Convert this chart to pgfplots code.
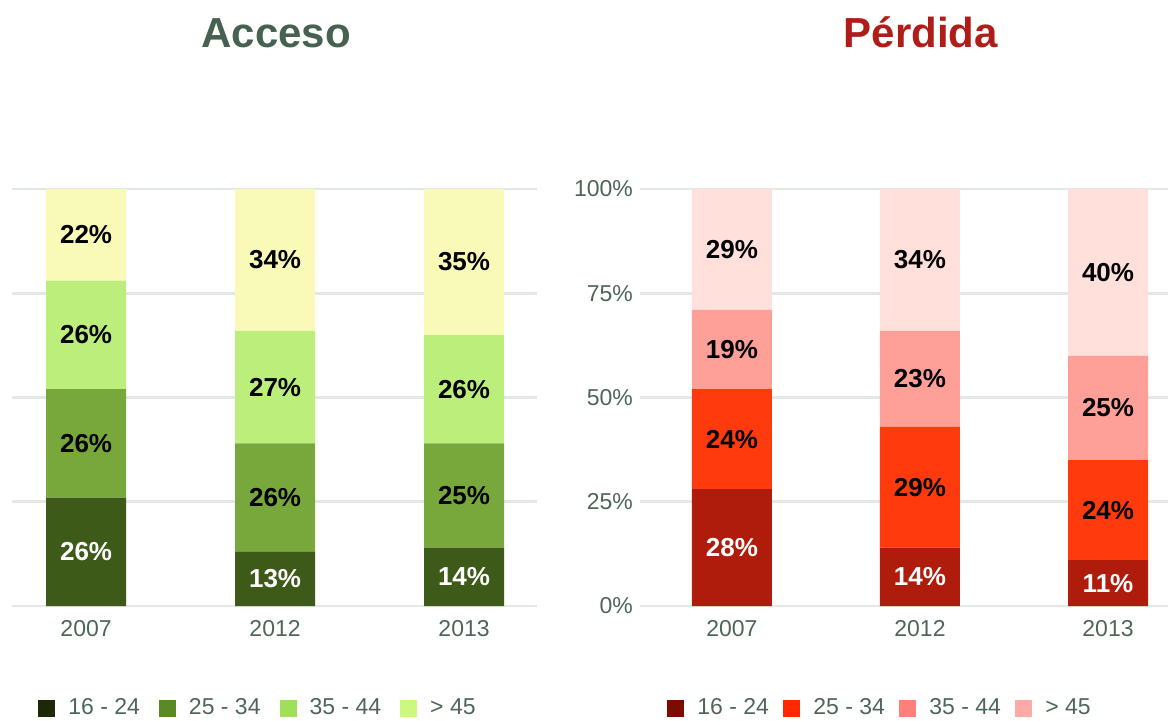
\documentclass[border=0pt]{standalone}
\usepackage{pgfplots}
\pgfplotsset{compat=1.18}
\usepackage{fontspec}
\setmainfont{Liberation Sans}

% text and grid
\definecolor{txtgray}{HTML}{4E6658}
\definecolor{gridc}{HTML}{E2E8E6}
\definecolor{acctitle}{HTML}{46614F}
\definecolor{pertitle}{HTML}{B01C18}
% bar colours
\definecolor{accA}{HTML}{3E5A18}
\definecolor{accB}{HTML}{78A83C}
\definecolor{accC}{HTML}{BCEE7C}
\definecolor{accD}{HTML}{FAFAB8}
\definecolor{perA}{HTML}{B01C0C}
\definecolor{perB}{HTML}{FF3A0C}
\definecolor{perC}{HTML}{FFA098}
\definecolor{perD}{HTML}{FFE0DA}
% legend colours
\definecolor{accLA}{HTML}{1C2806}
\definecolor{accLB}{HTML}{5A8A26}
\definecolor{accLC}{HTML}{A0E058}
\definecolor{accLD}{HTML}{CCF880}
\definecolor{perLA}{HTML}{7C0C00}
\definecolor{perLB}{HTML}{FF2800}
\definecolor{perLC}{HTML}{FF7F7A}
\definecolor{perLD}{HTML}{FFAAA6}

\pgfplotsset{
  every axis title shift=0pt,
  panel/.style={
    scale only axis, height=208.5pt,
    ymin=0, ymax=100,
    axis line style={draw=none},
    major tick length=0pt,
    xtick={0,1,2}, xticklabels={2007,2012,2013},
    ytick={0,25,50,75,100},
    ymajorgrids, grid style={gridc, line width=1.3pt},
    tick label style={font=\fontsize{11.5}{13}\selectfont, text=txtgray},
    xticklabel style={yshift=-3.5pt},
    /pgf/number format/assume math mode=true,
    clip=false,
  },
  seg/.style 2 args={fill=#1, draw=none,
    legend image code/.code={\fill[#2] (0pt,-4.25pt) rectangle (8.5pt,4.25pt);}},
  lab/.style={draw=none, mark=none, point meta=explicit,
    nodes near coords={\pgfmathprintnumber{\pgfplotspointmeta}\%},
    every node near coord/.append style={anchor=center,
      font=\bfseries\fontsize{13}{15}\selectfont, text=#1}},
  leg/.style 2 args={legend columns=4,
    legend style={draw=none, fill=none, inner sep=0pt, at={(#1,-0.245)}, anchor=west,
      font=\fontsize{11.5}{13}\selectfont, text=txtgray,
      /tikz/every odd column/.append style={column sep=4.5pt},
      /tikz/every even column/.append style={column sep=#2}}},
}

\begin{document}
\begin{tikzpicture}
\path[use as bounding box] (0,0) rectangle (584pt,360pt);

% ---- Acceso ----
\begin{axis}[panel, at={(6pt,57pt)}, anchor=south west,
    width=262.5pt, xmin=-0.392, xmax=2.386,
    yticklabel={\mbox{}},
    ybar stacked, bar width=40pt,
    title={Acceso},
    title style={at={(0.503,1.3405)}, anchor=base, text=acctitle,
      font=\bfseries\fontsize{21}{24}\selectfont},
    leg={0.0495}{7.5pt}]
\addplot[seg={accA}{accLA}] coordinates {(0,26) (1,13) (2,14)};
\addplot[seg={accB}{accLB}] coordinates {(0,26) (1,26) (2,25)};
\addplot[seg={accC}{accLC}] coordinates {(0,26) (1,27) (2,26)};
\addplot[seg={accD}{accLD}] coordinates {(0,22) (1,34) (2,35)};
\legend{16 - 24, 25 - 34, 35 - 44, > 45}
\end{axis}
% labels centred in the segments
\begin{axis}[panel, hide axis, at={(6pt,57pt)}, anchor=south west,
    width=262.5pt, xmin=-0.392, xmax=2.386]
\addplot[lab=white] coordinates {(0,13)[26] (1,6.5)[13] (2,7)[14]};
\addplot[lab=black] coordinates {(0,39)[26] (1,26)[26] (2,26.5)[25]};
\addplot[lab=black] coordinates {(0,65)[26] (1,52.5)[27] (2,52)[26]};
\addplot[lab=black] coordinates {(0,89)[22] (1,83)[34] (2,82.5)[35]};
\end{axis}

% ---- Pérdida ----
\begin{axis}[panel, at={(320pt,57pt)}, anchor=south west,
    width=264pt, xmin=-0.489, xmax=2.319,
    yticklabel={\pgfmathprintnumber{\tick}\%},
    ybar stacked, bar width=40pt,
    title={Pérdida},
    title style={at={(0.532,1.3405)}, anchor=base, text=pertitle,
      font=\bfseries\fontsize{21}{24}\selectfont},
    leg={0.051}{5.2pt}]
\addplot[seg={perA}{perLA}] coordinates {(0,28) (1,14) (2,11)};
\addplot[seg={perB}{perLB}] coordinates {(0,24) (1,29) (2,24)};
\addplot[seg={perC}{perLC}] coordinates {(0,19) (1,23) (2,25)};
\addplot[seg={perD}{perLD}] coordinates {(0,29) (1,34) (2,40)};
\legend{16 - 24, 25 - 34, 35 - 44, > 45}
\end{axis}
\begin{axis}[panel, hide axis, at={(320pt,57pt)}, anchor=south west,
    width=264pt, xmin=-0.489, xmax=2.319]
\addplot[lab=white] coordinates {(0,14)[28] (1,7)[14] (2,5.5)[11]};
\addplot[lab=black] coordinates {(0,40)[24] (1,28.5)[29] (2,23)[24]};
\addplot[lab=black] coordinates {(0,61.5)[19] (1,54.5)[23] (2,47.5)[25]};
\addplot[lab=black] coordinates {(0,85.5)[29] (1,83)[34] (2,80)[40]};
\end{axis}
\end{tikzpicture}
\end{document}
